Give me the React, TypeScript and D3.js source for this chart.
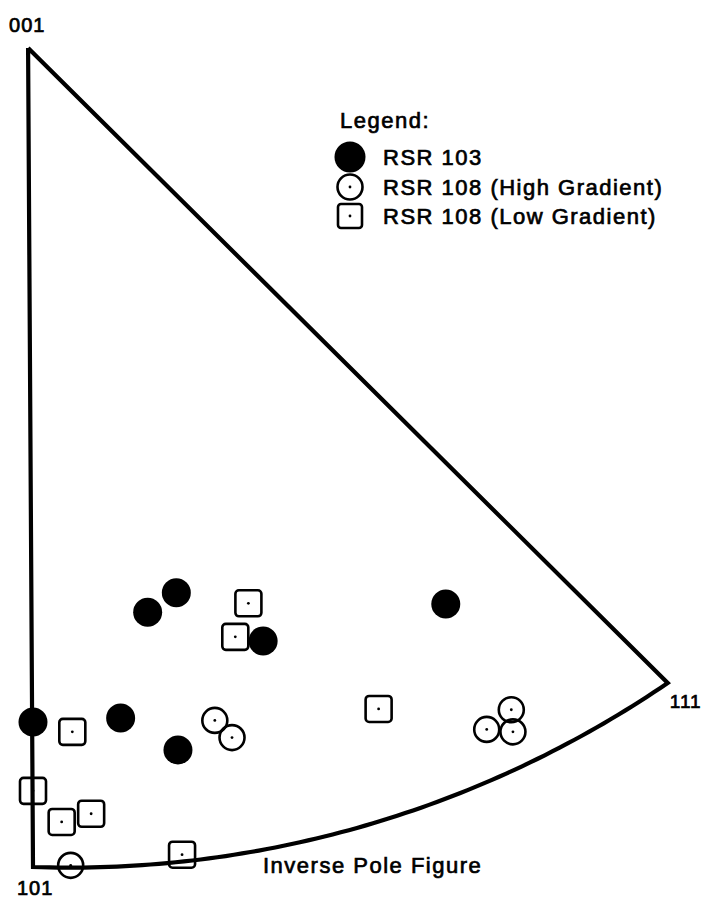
import { select, scaleLinear, range } from "d3";
import { useEffect, useRef } from "react";

// corners of the stereographic triangle (units: 101 -> 001 distance = 1)
const cornerLabels = ["001", "101", "111"];
const corners: [number, number][] = [
  [-0.006, 1.0],
  [0.0, 0.0],
  [0.775, 0.2247],
];
const arcMid: [number, number] = [0.427, 0.057];

// RSR 103
const rsr103: [number, number][] = [
  [0.14, 0.311],
  [0.175, 0.335],
  [0.281, 0.276],
  [0.504, 0.321],
  [0.0, 0.177],
  [0.107, 0.182],
  [0.177, 0.143],
];

// RSR 108 (High Gradient)
const rsr108High: [number, number][] = [
  [0.222, 0.179],
  [0.243, 0.158],
  [0.046, 0.002],
  [0.584, 0.192],
  [0.554, 0.168],
  [0.586, 0.165],
];

// RSR 108 (Low Gradient)
const rsr108Low: [number, number][] = [
  [0.263, 0.322],
  [0.247, 0.281],
  [0.048, 0.165],
  [0.0, 0.093],
  [0.035, 0.055],
  [0.071, 0.065],
  [0.182, 0.015],
  [0.422, 0.193],
];

const legendTitle = "Legend:";
const legendItems = [
  { label: "RSR 103", type: "filled" },
  { label: "RSR 108 (High Gradient)", type: "open" },
  { label: "RSR 108 (Low Gradient)", type: "square" },
];
const figureTitle = "Inverse Pole Figure";

const W = 706;
const H = 909;
const FONT = "'Liberation Sans', Arial, Helvetica, sans-serif";

// circle through three points
const circumcircle = (a, b, c) => {
  const d = 2 * (a[0] * (b[1] - c[1]) + b[0] * (c[1] - a[1]) + c[0] * (a[1] - b[1]));
  const a2 = a[0] * a[0] + a[1] * a[1];
  const b2 = b[0] * b[0] + b[1] * b[1];
  const c2 = c[0] * c[0] + c[1] * c[1];
  const ux = (a2 * (b[1] - c[1]) + b2 * (c[1] - a[1]) + c2 * (a[1] - b[1])) / d;
  const uy = (a2 * (c[0] - b[0]) + b2 * (a[0] - c[0]) + c2 * (b[0] - a[0])) / d;
  return { cx: ux, cy: uy, r: Math.hypot(a[0] - ux, a[1] - uy) };
};

export default function App() {
  const svgRef = useRef<SVGSVGElement | null>(null);

  useEffect(() => {
    if (!svgRef.current) return;
    const svg = select(svgRef.current);
    svg.selectAll("*").remove();

    const unit = 819;
    const x = scaleLinear().domain([0, 1]).range([33, 33 + unit]);
    const y = scaleLinear().domain([0, 1]).range([867, 867 - unit]);

    // boundary: 001 -> 101 -> arc -> 111 -> back to 001
    const circ = circumcircle(corners[1], arcMid, corners[2]);
    const a0 = Math.atan2(corners[1][1] - circ.cy, corners[1][0] - circ.cx);
    const a1 = Math.atan2(corners[2][1] - circ.cy, corners[2][0] - circ.cx);
    const arcPts = range(0, 1.0001, 1 / 80).map((t) => {
      const ang = a0 + (a1 - a0) * t;
      return [circ.cx + circ.r * Math.cos(ang), circ.cy + circ.r * Math.sin(ang)];
    });
    const outline = [corners[0], ...arcPts, corners[0]];

    const g = svg.append("g");
    const textStyle = (sel, size) =>
      sel
        .attr("font-family", FONT)
        .attr("font-size", size)
        .attr("letter-spacing", 1.5)
        .attr("fill", "#000")
        .attr("stroke", "#000")
        .attr("stroke-width", 0.7);

    // markers
    const dotR = 1.4;
    g.selectAll("circle.filled")
      .data(rsr103)
      .enter()
      .append("circle")
      .attr("class", "filled")
      .attr("cx", (d) => x(d[0]))
      .attr("cy", (d) => y(d[1]))
      .attr("r", 14.5)
      .attr("fill", "#000");

    const highG = g
      .selectAll("g.high")
      .data(rsr108High)
      .enter()
      .append("g")
      .attr("class", "high")
      .attr("transform", (d) => `translate(${x(d[0])},${y(d[1])})`);
    highG
      .append("circle")
      .attr("r", 12.5)
      .attr("fill", "none")
      .attr("stroke", "#000")
      .attr("stroke-width", 2.6);
    highG.append("circle").attr("r", dotR).attr("fill", "#000");

    const lowG = g
      .selectAll("g.low")
      .data(rsr108Low)
      .enter()
      .append("g")
      .attr("class", "low")
      .attr("transform", (d) => `translate(${x(d[0])},${y(d[1])})`);
    lowG
      .append("rect")
      .attr("x", -13)
      .attr("y", -13)
      .attr("width", 26)
      .attr("height", 26)
      .attr("rx", 3.5)
      .attr("fill", "white")
      .attr("stroke", "#000")
      .attr("stroke-width", 2.6);
    lowG.append("circle").attr("r", dotR).attr("fill", "#000");

    g.append("path")
      .attr("d", "M" + outline.map((p) => `${x(p[0])},${y(p[1])}`).join("L"))
      .attr("fill", "none")
      .attr("stroke", "#000")
      .attr("stroke-width", 4.2)
      .attr("stroke-linejoin", "miter")
      .attr("stroke-miterlimit", 6);

    // corner labels
    const labelPos = [
      { dx: -19, dy: -16, size: 20 },
      { dx: -16, dy: 28, size: 20 },
      { dx: 2, dy: 25, size: 19 },
    ];
    cornerLabels.forEach((lab, i) => {
      g.append("text")
        .attr("x", x(corners[i][0]) + labelPos[i].dx)
        .attr("y", y(corners[i][1]) + labelPos[i].dy)
        .call(textStyle, labelPos[i].size)
        .attr("letter-spacing", 1)
        .text(lab);
    });

    g.append("text")
      .attr("x", 263)
      .attr("y", 873)
      .call(textStyle, 22)
      .text(figureTitle);

    // legend
    const leg = svg.append("g").attr("transform", "translate(340,0)");
    leg.append("text").attr("x", 0).attr("y", 128).call(textStyle, 22).text(legendTitle);

    const rowY = [157, 187, 216];
    legendItems.forEach((item, i) => {
      const row = leg.append("g").attr("transform", `translate(10,${rowY[i]})`);
      if (item.type === "filled") {
        row.append("circle").attr("r", 15.5).attr("fill", "#000");
      } else if (item.type === "open") {
        row
          .append("circle")
          .attr("r", 12.5)
          .attr("fill", "none")
          .attr("stroke", "#000")
          .attr("stroke-width", 2.6);
        row.append("circle").attr("r", dotR).attr("fill", "#000");
      } else {
        row
          .append("rect")
          .attr("x", -12)
          .attr("y", -12)
          .attr("width", 24)
          .attr("height", 24)
          .attr("rx", 3)
          .attr("fill", "white")
          .attr("stroke", "#000")
          .attr("stroke-width", 2.6);
        row.append("circle").attr("r", dotR).attr("fill", "#000");
      }
      row
        .append("text")
        .attr("x", 33)
        .attr("y", 8)
        .call(textStyle, 22)
        .text(item.label);
    });
  }, []);

  return (
    <svg
      ref={svgRef}
      width={W}
      height={H}
      style={{ position: "absolute", left: 0, top: 0, background: "white" }}
    ></svg>
  );
}
